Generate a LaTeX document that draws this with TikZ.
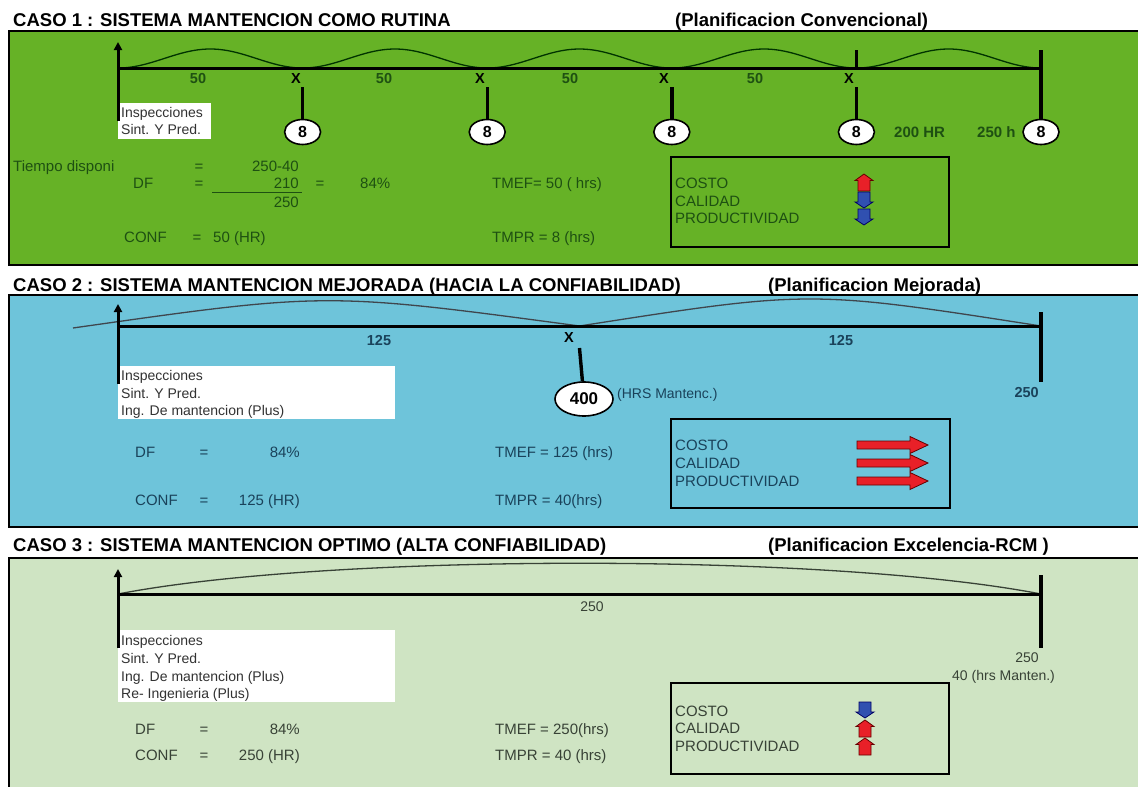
\documentclass[tikz,border=0pt]{standalone}
\usepackage{fontspec}
\setmainfont{Liberation Sans}
\usetikzlibrary{arrows.meta,shapes.geometric}
\definecolor{panelA}{RGB}{102,178,38}
\definecolor{panelB}{RGB}{110,196,218}
\definecolor{panelC}{RGB}{207,228,195}
\definecolor{inkA}{RGB}{30,80,18}
\definecolor{inkB}{RGB}{26,66,90}
\definecolor{inkC}{RGB}{56,66,54}
\definecolor{notegray}{RGB}{50,50,50}
\definecolor{upred}{RGB}{232,32,40}
\definecolor{downblue}{RGB}{48,80,176}
\begin{document}
\begin{tikzpicture}[x=1pt,y=-1pt,
  ttl/.style={font=\fontsize{18.5}{20}\selectfont\bfseries, anchor=base west, inner sep=0},
  panel/.style={draw=black, line width=2.5pt},
  bt/.style={font=\fontsize{15}{17}\selectfont, inner sep=0, anchor=base west},
  btc/.style={bt, anchor=base},
  bte/.style={bt, anchor=base east},
  lbl/.style={font=\fontsize{14.5}{16}\selectfont\bfseries, inner sep=0, anchor=base},
  note/.style={font=\fontsize{14}{16}\selectfont, text=notegray, inner sep=0, anchor=base west},
  whitebox/.style={fill=white},
  axisline/.style={line width=3pt},
  stem/.style={line width=3.4pt},
  upline/.style={line width=3pt, -{Triangle[width=8pt,length=8pt]}},
  ring/.style={ellipse, draw=black, line width=1.6pt, fill=white, minimum width=36pt,
    minimum height=25pt, inner sep=0, font=\fontsize{16}{16}\selectfont\bfseries},
  wave/.style={line width=1.3pt},
  infobox/.style={draw=black, line width=2.2pt},
  pics/vup/.style={code={\filldraw[fill=upred, draw=black!60!red, line width=0.8pt]
    (-6,17) -- (-6,6.5) -- (-9,6.5) -- (0,0) -- (9,6.5) -- (6,6.5) -- (6,17) -- cycle;}},
  pics/vdown/.style={code={\filldraw[fill=downblue, draw=black!60!blue, line width=0.8pt]
    (-6,0) -- (-6,10) -- (-9,10) -- (0,16) -- (9,10) -- (6,10) -- (6,0) -- cycle;}},
  pics/hright/.style={code={\filldraw[fill=upred, draw=black!60!red, line width=0.8pt]
    (0,-4) -- (53,-4) -- (53,-8.5) -- (71,0) -- (53,8.5) -- (53,4) -- (0,4) -- cycle;}}
]
\useasboundingbox (0,0) rectangle (1138,787);
\fill[white] (0,0) rectangle (1138,787);

% ---------------- Caso 1 ----------------
\node[ttl] (t1) at (13,26.5) {CASO 1 : SISTEMA MANTENCION COMO RUTINA};
\node[ttl] (p1) at (675,26.5) {(Planificacion Convencional)};
\filldraw[panel, fill=panelA] (9,31) rectangle (1142,265);

\fill[whitebox] (118,103) rectangle (211,139);
\node[note] (n1a) at (121,117.5) {Inspecciones};
\node[note] (n1b) at (121,134.5) {Sint. Y Pred.};

\draw[wave, draw=black!80!green] plot[domain=118:1041, samples=220]
  (\x,{68-9.5*(1-cos(1.950163*(\x-118)))});
\coordinate (a1s) at (118,68);
\coordinate (a1e) at (1041,68);
\draw[axisline] (a1s) -- (a1e);
\coordinate (u1b) at (118,121);
\coordinate (u1t) at (118,42);
\draw[upline] (u1b) -- (u1t);

\foreach \k in {1,...,4} {
  \node[ring] (c\k) at ({118+184.6*\k},132) {8};
  \coordinate (s\k) at ({118+184.6*\k},87);
  \draw[stem] (s\k) -- (c\k);
}
\node[ring] (c5) at (1041,132) {8};
\coordinate (r1) at (1041,50);
\draw[stem] (r1) -- (c5);
\coordinate (k1a) at (856.4,50);
\coordinate (k1b) at (856.4,68);
\draw[stem] (k1a) -- (k1b);

\foreach \xx/\nm in {198/a,384/b,570/c,755/d} {
  \node[lbl, text=inkA] (f\nm) at (\xx,83) {50};
}
\foreach \xx/\nm in {296/a,480/b,664/c,849/d} {
  \node[lbl, text=black] (x\nm) at (\xx,83) {X};
}
\node[lbl, anchor=base west, text=inkA, font=\fontsize{15}{17}\selectfont\bfseries] (h200) at (894,137) {200 HR};
\node[lbl, anchor=base west, text=inkA, font=\fontsize{15}{17}\selectfont\bfseries] (h250) at (977,137) {250 h};

\begin{scope}[every node/.append style={text=inkA}]
\node[bt] (td) at (13,171.5) {Tiempo disponi};
\node[btc] (eq1) at (199,171.5) {=};
\node[bte] (v1) at (299,171.5) {250-40};
\node[bt] (df1) at (133,188.5) {DF};
\node[btc] (eq2) at (199,188.5) {=};
\node[bte] (v2) at (299,188.5) {210};
\node[bte] (v3) at (299,207.5) {250};
\node[btc] (eq3) at (320,188.5) {=};
\node[bt] (pc1) at (360,188.5) {84\%};
\node[bt] (tm1) at (492,188.5) {TMEF= 50 ( hrs)};
\node[bt] (cf1) at (124,242.5) {CONF};
\node[btc] (eq4) at (197,242.5) {=};
\node[bt] (cv1) at (213,242.5) {50 (HR)};
\node[bt] (tr1) at (492,242.5) {TMPR = 8 (hrs)};
\node[bt] (co1) at (675,188.5) {COSTO};
\node[bt] (ca1) at (675,206.5) {CALIDAD};
\node[bt] (pr1) at (675,223.5) {PRODUCTIVIDAD};
\end{scope}
\coordinate (fr1) at (212,192.5);
\coordinate (fr2) at (302,192.5);
\draw[line width=1.6pt, inkA] (fr1) -- (fr2);

\draw[infobox] (671,157) rectangle (949,247);
\pic at (864,174) {vup};
\pic at (864,192) {vdown};
\pic at (864,209) {vdown};

% ---------------- Caso 2 ----------------
\node[ttl] (t2) at (13,291.5) {CASO 2 : SISTEMA MANTENCION MEJORADA (HACIA LA CONFIABILIDAD)};
\node[ttl] (p2) at (768,291.5) {(Planificacion Mejorada)};
\filldraw[panel, fill=panelB] (9,295) rectangle (1142,527);

\fill[whitebox] (118,366) rectangle (395,419);
\node[note] (n2a) at (121,380) {Inspecciones};
\node[note] (n2b) at (121,398) {Sint. Y Pred.};
\node[note] (n2c) at (121,415) {Ing. De mantencion (Plus)};

\coordinate (w2s) at (73,328);
\coordinate (m2) at (579.5,326);
\coordinate (a2s) at (118,326);
\coordinate (a2e) at (1041,326);
\draw[wave, draw=black!80!cyan] (w2s) .. controls (326,292) .. (m2) .. controls (810,290) .. (a2e);
\draw[axisline] (a2s) -- (a2e);
\coordinate (u2b) at (118,384);
\coordinate (u2t) at (118,304);
\draw[upline] (u2b) -- (u2t);

\node[ring, minimum width=58pt, minimum height=34pt, font=\fontsize{17}{17}\selectfont\bfseries] (c400) at (584,399) {400};
\coordinate (s2) at (579.5,348);
\draw[stem] (s2) -- (c400);
\coordinate (r2a) at (1041,312);
\coordinate (r2b) at (1041,382);
\draw[stem] (r2a) -- (r2b);

\node[lbl, text=inkB] (g1) at (379,345) {125};
\node[lbl, text=inkB] (g2) at (841,345) {125};
\node[lbl, text=black] (x2) at (569,342) {X};
\node[lbl, anchor=base east, text=inkB] (g3) at (1039,397) {250};
\node[bt, text=inkB, font=\fontsize{14}{16}\selectfont] (hm) at (617,398) {(HRS Mantenc.)};

\begin{scope}[every node/.append style={text=inkB}]
\node[bt] (df2) at (135,457) {DF};
\node[btc] (eq5) at (204,457) {=};
\node[bte] (pc2) at (300,457) {84\%};
\node[bt] (tm2) at (495,457) {TMEF = 125 (hrs)};
\node[bt] (cf2) at (135,505) {CONF};
\node[btc] (eq6) at (204,505) {=};
\node[bte] (cv2) at (300,505) {125 (HR)};
\node[bt] (tr2) at (495,505) {TMPR = 40(hrs)};
\node[bt] (co2) at (675,450.5) {COSTO};
\node[bt] (ca2) at (675,468.5) {CALIDAD};
\node[bt] (pr2) at (675,486.5) {PRODUCTIVIDAD};
\end{scope}

\draw[infobox] (671,419) rectangle (950,508);
\pic at (857,445) {hright};
\pic at (857,463) {hright};
\pic at (857,481) {hright};

% ---------------- Caso 3 ----------------
\node[ttl] (t3) at (13,551.5) {CASO 3 : SISTEMA MANTENCION OPTIMO (ALTA CONFIABILIDAD)};
\node[ttl] (p3) at (768,551.5) {(Planificacion Excelencia-RCM )};
\filldraw[panel, fill=panelC] (9,558) rectangle (1142,800);

\fill[whitebox] (118,630) rectangle (395,702);
\node[note] (n3a) at (121,645) {Inspecciones};
\node[note] (n3b) at (121,663) {Sint. Y Pred.};
\node[note] (n3c) at (121,681) {Ing. De mantencion (Plus)};
\node[note] (n3d) at (121,698) {Re- Ingenieria (Plus)};

\coordinate (a3s) at (118,594);
\coordinate (a3e) at (1041,594);
\draw[wave, draw=inkC] (a3s) .. controls (330,553) and (830,553) .. (a3e);
\draw[axisline] (a3s) -- (a3e);
\coordinate (u3b) at (118,648);
\coordinate (u3t) at (118,569);
\draw[upline] (u3b) -- (u3t);
\coordinate (r3a) at (1041,575);
\coordinate (r3b) at (1041,648);
\draw[stem] (r3a) -- (r3b);

\begin{scope}[every node/.append style={text=inkC}]
\node[btc, font=\fontsize{14}{16}\selectfont] (g4) at (592,611) {250};
\node[btc, font=\fontsize{14}{16}\selectfont] (g5) at (1027,662) {250};
\node[bt, font=\fontsize{14}{16}\selectfont] (hm3) at (952,680) {40 (hrs Manten.)};
\node[bt] (df3) at (135,734.5) {DF};
\node[btc] (eq7) at (204,734.5) {=};
\node[bte] (pc3) at (300,734.5) {84\%};
\node[bt] (tm3) at (495,734.5) {TMEF = 250(hrs)};
\node[bt] (cf3) at (135,760.5) {CONF};
\node[btc] (eq8) at (204,760.5) {=};
\node[bte] (cv3) at (300,760.5) {250 (HR)};
\node[bt] (tr3) at (495,760.5) {TMPR = 40 (hrs)};
\node[bt] (co3) at (675,716.5) {COSTO};
\node[bt] (ca3) at (675,733.5) {CALIDAD};
\node[bt] (pr3) at (675,751.5) {PRODUCTIVIDAD};
\end{scope}

\draw[infobox] (671,683) rectangle (949,774);
\pic at (865,702) {vdown};
\pic at (865,720) {vup};
\pic at (865,738) {vup};
\end{tikzpicture}
\end{document}
